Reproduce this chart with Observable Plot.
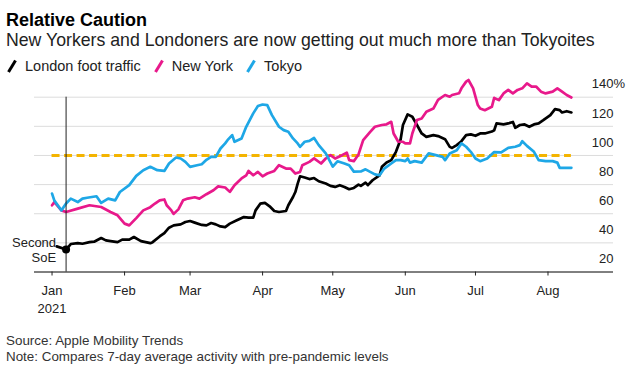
<!DOCTYPE html>
<html><head><meta charset="utf-8">
<script src="https://cdn.jsdelivr.net/npm/d3@7"></script>
<script src="https://cdn.jsdelivr.net/npm/@observablehq/plot@0.6"></script>
<style>
body{margin:0;background:#fff;font-family:"Liberation Sans",Arial,sans-serif;}
#wrap{position:relative;width:639px;height:375px;overflow:hidden;background:#fff;}
.t{position:absolute;left:6px;white-space:nowrap;}
#title{top:11px;font-size:18px;line-height:18px;font-weight:bold;color:#000;}
#sub{top:31.5px;font-size:17.7px;line-height:17.7px;color:#222;}
#legend{top:59px;left:7px;font-size:14.5px;line-height:14.5px;color:#222;display:flex;align-items:center;}
#legend .it{display:flex;align-items:center;margin-right:13px;}
#legend svg{margin-right:8px;}
#chart{position:absolute;left:0;top:75px;}
#foot{top:333px;font-size:13.4px;line-height:16px;color:#333;}
</style></head>
<body><div id="wrap">
<div id="title" class="t"></div>
<div id="sub" class="t"></div>
<div id="legend" class="t"></div>
<div id="chart"></div>
<div id="foot" class="t"></div>
</div>
<script>
const titleText = "Relative Caution";
const subtitleText = "New Yorkers and Londoners are now getting out much more than Tokyoites";
const sourceText = "Source: Apple Mobility Trends";
const noteText = "Note: Compares 7-day average activity with pre-pandemic levels";
const seriesNames = ["London foot traffic", "New York", "Tokyo"];
const seriesColors = ["#000000", "#e8198b", "#1ea7e6"];
const refColor = "#f4b400";
const refLevel = 100;
const gridValues = [40, 60, 80, 100, 120, 140];
const yTickValues = [140, 120, 100, 80, 60, 40, 20];
const yDomain = [20, 140];
const xDomain = ["2020-12-24T12:00Z", "2021-08-29T00:00Z"];
const monthTicks = ["2021-01-01","2021-02-01","2021-03-01","2021-04-01","2021-05-01","2021-06-01","2021-07-01","2021-08-01"];
const monthLabels = ["Jan\n2021","Feb","Mar","Apr","May","Jun","Jul","Aug"];
const soeDate = "2021-01-07";
const soeLabel = "Second\nSoE";

const london = [
["2021-01-03",37.6],["2021-01-07",35.4],["2021-01-09",39.2],["2021-01-12",39.8],["2021-01-14",39.4],["2021-01-17",40.5],["2021-01-19",40.8],["2021-01-22",43.3],["2021-01-24",41.7],["2021-01-26",41.2],["2021-01-29",40.5],["2021-01-31",42.2],["2021-02-03",42.2],["2021-02-05",44],["2021-02-08",41.2],["2021-02-12",39.8],["2021-02-13",40.5],["2021-02-16",44.4],["2021-02-18",46.7],["2021-02-20",50.4],["2021-02-22",52],["2021-02-25",52.7],["2021-02-27",54.3],["2021-03-01",55],["2021-03-03",53.9],["2021-03-06",52.3],["2021-03-08",52],["2021-03-10",53.6],["2021-03-12",52.7],["2021-03-14",51.3],["2021-03-16",50.8],["2021-03-18",53.2],["2021-03-21",55.5],["2021-03-24",57.7],["2021-03-26",57.3],["2021-03-28",57.3],["2021-03-29",62.3],["2021-03-31",66.9],["2021-04-02",67.4],["2021-04-04",65.1],["2021-04-06",61.9],["2021-04-08",61.2],["2021-04-11",61.9],["2021-04-12",65.8],["2021-04-14",71.5],["2021-04-15",74.9],["2021-04-16",80.7],["2021-04-17",85.7],["2021-04-19",84.9],["2021-04-21",83.8],["2021-04-23",84.5],["2021-04-25",82.3],["2021-04-28",80.7],["2021-04-30",79.1],["2021-05-02",78.4],["2021-05-04",79.6],["2021-05-06",78.4],["2021-05-08",76.8],["2021-05-10",77.7],["2021-05-12",80],["2021-05-13",79.1],["2021-05-15",81.4],["2021-05-16",79.6],["2021-05-18",83],["2021-05-21",86.4],["2021-05-22",92.2],["2021-05-24",95.2],["2021-05-26",96.8],["2021-05-28",102.5],["2021-05-30",111],["2021-05-31",120.9],["2021-06-02",128.2],["2021-06-04",126.6],["2021-06-06",120.9],["2021-06-08",115.1],["2021-06-10",112.8],["2021-06-13",114],["2021-06-15",113.3],["2021-06-18",111.2],["2021-06-20",105.9],["2021-06-21",105.2],["2021-06-23",107.1],["2021-06-25",109.8],["2021-06-27",114],["2021-06-29",114.5],["2021-07-01",113.5],["2021-07-03",115.1],["2021-07-05",115.1],["2021-07-08",116.5],["2021-07-09",117.3],["2021-07-10",122],["2021-07-13",121.3],["2021-07-15",122],["2021-07-17",123],["2021-07-18",119],["2021-07-20",120.9],["2021-07-22",121.3],["2021-07-24",119.7],["2021-07-26",121.3],["2021-07-28",122],["2021-07-30",124.2],["2021-08-02",127.7],["2021-08-04",131.8],["2021-08-06",131.1],["2021-08-07",129.5],["2021-08-09",130.4],["2021-08-11",129.5]
];
const newYork = [
["2021-01-01",65.8],["2021-01-02",68],["2021-01-05",62.3],["2021-01-07",61.2],["2021-01-12",63.5],["2021-01-17",65.8],["2021-01-22",64.6],["2021-01-26",61.2],["2021-01-29",58.9],["2021-02-01",53.2],["2021-02-03",52],["2021-02-06",57],["2021-02-09",62.3],["2021-02-12",64.5],["2021-02-14",67],["2021-02-16",69.2],["2021-02-18",69.8],["2021-02-19",65.8],["2021-02-21",62.3],["2021-02-22",59.9],["2021-02-24",63],["2021-02-26",69.2],["2021-02-28",70.4],["2021-03-03",71.3],["2021-03-05",70.4],["2021-03-08",73.4],["2021-03-11",76.1],["2021-03-13",78.8],["2021-03-16",78],["2021-03-18",75],["2021-03-20",79.6],["2021-03-23",84.2],["2021-03-25",86.4],["2021-03-26",89.4],["2021-03-28",86.4],["2021-03-30",88.7],["2021-04-01",85.7],["2021-04-03",87.6],["2021-04-06",89.4],["2021-04-08",93.3],["2021-04-11",91],["2021-04-13",91],["2021-04-15",87.6],["2021-04-17",88.7],["2021-04-18",93.3],["2021-04-21",95.6],["2021-04-23",98],["2021-04-26",94.5],["2021-04-28",97.9],["2021-04-30",100.2],["2021-05-02",97.9],["2021-05-05",100.2],["2021-05-07",102],["2021-05-08",96.8],["2021-05-10",96.1],["2021-05-12",100.7],["2021-05-14",110.5],["2021-05-17",116.2],["2021-05-19",119.7],["2021-05-22",120.9],["2021-05-24",121.4],["2021-05-26",123.1],["2021-05-27",115.1],["2021-05-29",109.4],["2021-05-31",109.4],["2021-06-01",108.3],["2021-06-03",108.3],["2021-06-04",115.1],["2021-06-06",124.3],["2021-06-08",125.4],["2021-06-10",130],["2021-06-13",132.2],["2021-06-15",138.1],["2021-06-18",141.5],["2021-06-20",140.3],["2021-06-21",141.5],["2021-06-24",142.7],["2021-06-25",146.1],["2021-06-27",150.7],["2021-06-28",151.8],["2021-06-30",146.1],["2021-07-02",134.6],["2021-07-03",132.3],["2021-07-05",131.1],["2021-07-08",133.4],["2021-07-09",139.5],["2021-07-11",138],["2021-07-13",142.6],["2021-07-15",145],["2021-07-17",142.6],["2021-07-19",145],["2021-07-21",146.1],["2021-07-23",149.5],["2021-07-25",147.2],["2021-07-27",147.2],["2021-07-29",143.8],["2021-07-31",142.6],["2021-08-03",143.8],["2021-08-05",146.1],["2021-08-07",143.8],["2021-08-09",141.5],["2021-08-11",139.8]
];
const tokyo = [
["2021-01-01",73.8],["2021-01-02",69],["2021-01-05",62.3],["2021-01-07",67],["2021-01-09",70.4],["2021-01-12",68],["2021-01-14",70.4],["2021-01-16",71],["2021-01-18",71.5],["2021-01-20",72],["2021-01-22",67.4],["2021-01-25",70.4],["2021-01-28",69.2],["2021-01-30",74.9],["2021-02-03",79.6],["2021-02-06",86],["2021-02-09",89.9],["2021-02-12",92.2],["2021-02-15",89.9],["2021-02-18",89.4],["2021-02-20",94.5],["2021-02-23",98.6],["2021-02-25",97.9],["2021-02-27",95.6],["2021-03-01",92.2],["2021-03-04",93.3],["2021-03-06",94],["2021-03-08",97],["2021-03-10",99],["2021-03-12",99],["2021-03-14",104.8],["2021-03-16",108.3],["2021-03-17",110.5],["2021-03-19",114],["2021-03-20",109.4],["2021-03-23",111.7],["2021-03-25",119.7],["2021-03-28",128.9],["2021-03-30",133.9],["2021-04-01",135],["2021-04-03",134.6],["2021-04-05",127.7],["2021-04-08",119.7],["2021-04-10",117.4],["2021-04-12",116.3],["2021-04-14",111.7],["2021-04-16",108.3],["2021-04-17",105.9],["2021-04-19",109.4],["2021-04-21",110],["2021-04-23",112],["2021-04-25",107.1],["2021-04-28",101.4],["2021-05-01",92.4],["2021-05-03",96],["2021-05-06",94.5],["2021-05-08",93.3],["2021-05-10",88.9],["2021-05-13",89],["2021-05-15",90.5],["2021-05-17",88.7],["2021-05-19",87],["2021-05-21",86.4],["2021-05-23",91],["2021-05-26",94.5],["2021-05-28",96.8],["2021-05-30",96.8],["2021-06-01",96.1],["2021-06-02",97.9],["2021-06-03",95.1],["2021-06-05",96.1],["2021-06-08",95.1],["2021-06-11",101.4],["2021-06-14",100.2],["2021-06-17",99],["2021-06-18",96.8],["2021-06-20",101.4],["2021-06-23",103.6],["2021-06-25",108.3],["2021-06-27",106],["2021-06-29",102.5],["2021-07-01",97.9],["2021-07-03",96.1],["2021-07-06",97.9],["2021-07-09",102.3],["2021-07-12",102.1],["2021-07-15",105.2],["2021-07-18",106],["2021-07-20",107.1],["2021-07-21",109.8],["2021-07-23",106.6],["2021-07-26",102.5],["2021-07-28",96.8],["2021-07-31",96.1],["2021-08-03",96.1],["2021-08-05",95.1],["2021-08-06",91.5],["2021-08-09",91.5],["2021-08-11",91.5]
];

// ---- build ----
document.getElementById("title").textContent = titleText;
document.getElementById("sub").textContent = subtitleText;
document.getElementById("foot").innerHTML = sourceText + "<br>" + noteText;
const leg = document.getElementById("legend");
seriesNames.forEach((n, i) => {
  const it = document.createElement("span");
  it.className = "it";
  it.innerHTML = `<svg width="10" height="14"><line x1="1.5" y1="13" x2="8.5" y2="1.5" stroke="${seriesColors[i]}" stroke-width="3"/></svg><span>${n}</span>`;
  leg.appendChild(it);
});

const toRows = arr => arr.map(([d, v]) => ({date: new Date(d), value: v}));
const lRows = toRows(london), nRows = toRows(newYork), tRows = toRows(tokyo);
const allDates = [...lRows, ...nRows, ...tRows].map(d => d.date);
const refRows = [{y: refLevel, x1: d3.min(allDates), x2: d3.max(allDates)}];
const soeRow = lRows.filter(d => +d.date === +new Date(soeDate));
const soeRule = [{x: new Date(soeDate), y1: yDomain[0], y2: yDomain[1]}];
const tickDates = monthTicks.map(d => new Date(d));
const labelMap = new Map(tickDates.map((d, i) => [+d, monthLabels[i]]));

const chart = Plot.plot({
  width: 639,
  height: 250,
  marginLeft: 34,
  marginRight: 26,
  marginTop: 21.7,
  marginBottom: 53.5,
  style: {fontFamily: "'Liberation Sans', Arial, sans-serif", fontSize: "13px", background: "transparent", overflow: "visible"},
  x: {type: "utc", domain: xDomain.map(d => new Date(d)), axis: null},
  y: {domain: yDomain, axis: null},
  marks: [
    Plot.ruleY(gridValues, {stroke: "#dcdcdc", strokeWidth: 1}),
    Plot.ruleY(refRows, {y: "y", x1: "x1", x2: "x2", stroke: refColor, strokeWidth: 3, strokeDasharray: "8,4.5"}),
    Plot.line(lRows, {x: "date", y: "value", stroke: seriesColors[0], strokeWidth: 2.7, strokeLinejoin: "round"}),
    Plot.line(nRows, {x: "date", y: "value", stroke: seriesColors[1], strokeWidth: 2.7, strokeLinejoin: "round"}),
    Plot.line(tRows, {x: "date", y: "value", stroke: seriesColors[2], strokeWidth: 2.7, strokeLinejoin: "round"}),
    Plot.ruleX(soeRule, {x: "x", y1: "y1", y2: "y2", stroke: "#222", strokeWidth: 1}),
    Plot.dot(soeRow, {x: "date", y: "value", r: 4, fill: "#000"}),
    Plot.text(soeRow, {x: "date", y: "value", text: () => soeLabel, textAnchor: "end", dx: -10, lineHeight: 1.2, fontSize: 13, fill: "#222"}),
    Plot.ruleY([yDomain[0]], {stroke: "#000", strokeWidth: 1}),
    Plot.axisX({ticks: tickDates, tickFormat: d => labelMap.get(+d), tickSize: 4, tickPadding: 7, lineHeight: 1.35, fontSize: 13, stroke: "#222", fill: "#222"}),
    Plot.text(yTickValues, {y: d => d, text: d => String(d), frameAnchor: "right", textAnchor: "end", dy: -13, fontSize: 13, fill: "#222"}),
    Plot.text([yTickValues[0]], {y: d => d, text: () => "%", frameAnchor: "right", textAnchor: "start", dy: -13, fontSize: 13, fill: "#222"})
  ]
});
document.getElementById("chart").appendChild(chart);
</script>
</body></html>
